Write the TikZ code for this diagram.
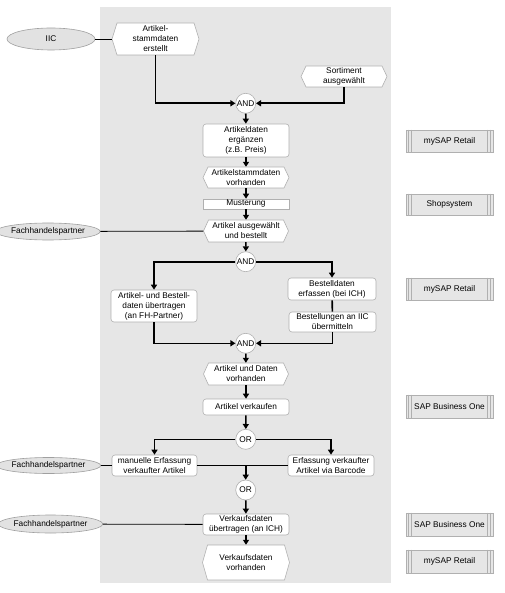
\documentclass[tikz,border=0pt]{standalone}
\usepackage{fontspec}
\setmainfont{Liberation Sans}
\usetikzlibrary{arrows.meta,shapes.geometric}
\definecolor{bggray}{HTML}{E6E6E6}
\definecolor{bordergray}{HTML}{B0B0B0}
\definecolor{actorfill}{HTML}{E2E2E2}
\definecolor{actorline}{HTML}{A0A0A0}
\tikzset{
  txt/.style={font=\fontsize{8.3}{10}\selectfont, align=center, inner sep=0pt},
  funcbox/.style={txt, draw=bordergray, fill=white, rounded corners=3pt, line width=0.6pt},
  plainbox/.style={txt, draw=bordergray, fill=white, line width=0.6pt},
  hexline/.style={draw=bordergray, fill=white, line width=0.6pt},
  gate/.style={txt, circle, draw=bordergray, fill=white, minimum size=20pt, line width=0.6pt},
  actor/.style={txt, ellipse, draw=actorline, fill=actorfill, line width=0.6pt},
  sysbox/.style={txt, draw=bordergray, fill=bggray, minimum width=87pt, line width=0.6pt},
  sysline/.style={draw=bordergray, line width=0.6pt},
  flow/.style={line width=1.6pt, -{Triangle[length=5pt,width=6pt]}},
  flowplain/.style={line width=1.6pt},
  link/.style={line width=0.8pt}
}
\newcommand\hexnode[6]{%
  \draw[hexline] (#2-#4/2,#3) -- (#2-#4/2+5,#3-#5/2) -- (#2+#4/2-5,#3-#5/2) -- (#2+#4/2,#3) -- (#2+#4/2-5,#3+#5/2) -- (#2-#4/2+5,#3+#5/2) -- cycle;
  \node[txt, minimum width=#4pt, minimum height=#5pt] (#1) at (#2,#3) {#6};}
\newcommand\sysnode[4]{%
  \node[sysbox, minimum height=#3pt] (#1) at (449.5,#2) {#4};
  \draw[sysline] ([xshift=3pt]#1.north west) -- ([xshift=3pt]#1.south west);
  \draw[sysline] ([xshift=6pt]#1.north west) -- ([xshift=6pt]#1.south west);
  \draw[sysline] ([xshift=-3pt]#1.north east) -- ([xshift=-3pt]#1.south east);
  \draw[sysline] ([xshift=-6pt]#1.north east) -- ([xshift=-6pt]#1.south east);}
\begin{document}
\begin{tikzpicture}[x=1pt,y=-1pt]
\useasboundingbox (0,0) rectangle (504,593);
\fill[white] (0,0) rectangle (504,593);
\fill[bggray] (100,7) rectangle (391,583);

% actors
\node[actor, minimum width=88pt, minimum height=22pt] (iic) at (51,39) {IIC};
\node[actor, minimum width=86pt, minimum height=17pt] (fh1) at (48,231.5) {Fachhandelspartner};
\node[actor, minimum width=85pt, minimum height=16pt] (fh2) at (48.5,465.5) {Fachhandelspartner};
\node[actor, minimum width=85pt, minimum height=18pt] (fh3) at (50.5,524) {Fachhandelspartner};

% events
\hexnode{e1}{155.5}{39}{87}{32}{Artikel-\\stammdaten\\erstellt}
\hexnode{e2}{344}{76.5}{86}{21}{Sortiment\\ausgewählt}
\hexnode{e3}{246}{177.5}{86}{21}{Artikelstammdaten\\vorhanden}
\hexnode{e4}{246}{231}{85}{22}{Artikel ausgewählt\\und bestellt}
\hexnode{e5}{246}{374}{85}{22}{Artikel und Daten\\vorhanden}
\hexnode{e6}{246}{562.5}{87}{35}{Verkaufsdaten\\vorhanden}

% functions
\node[funcbox, minimum width=86pt, minimum height=33pt] (f1) at (246,140.5) {Artikeldaten\\ergänzen\\(z.B. Preis)};
\node[plainbox, minimum width=86pt, minimum height=10pt] (f2) at (246,204) {Musterung};
\node[funcbox, minimum width=86pt, minimum height=32pt] (f3) at (154,306) {Artikel- und Bestell-\\daten übertragen\\(an FH-Partner)};
\node[funcbox, minimum width=88pt, minimum height=22pt] (f4) at (332,289) {Bestelldaten\\erfassen (bei ICH)};
\node[funcbox, minimum width=87pt, minimum height=20pt] (f5) at (332.5,322) {Bestellungen an IIC\\übermitteln};
\node[funcbox, minimum width=86pt, minimum height=16pt] (f6) at (246,407) {Artikel verkaufen};
\node[funcbox, minimum width=85pt, minimum height=21pt] (f7) at (154.5,465.5) {manuelle Erfassung\\verkaufter Artikel};
\node[funcbox, minimum width=86pt, minimum height=21pt] (f8) at (331,465.5) {Erfassung verkaufter\\Artikel via Barcode};
\node[funcbox, minimum width=86pt, minimum height=21pt] (f9) at (246,524.5) {Verkaufsdaten\\übertragen (an ICH)};

% gates
\node[gate] (g1) at (245.7,103.3) {AND};
\node[gate] (g2) at (245.7,261.7) {AND};
\node[gate] (g3) at (245.7,343.3) {AND};
\node[gate] (g4) at (245.7,439.3) {OR};
\node[gate] (g5) at (245.7,490) {OR};

% systems
\sysnode{s1}{141}{22}{mySAP Retail}
\sysnode{s2}{204.5}{21}{Shopsystem}
\sysnode{s3}{289}{22}{mySAP Retail}
\sysnode{s4}{406.5}{23}{SAP Business One}
\sysnode{s5}{524.5}{23}{SAP Business One}
\sysnode{s6}{561.5}{23}{mySAP Retail}

% actor links
\draw[link] (iic) -- (e1);
\draw[link] (fh1) -- (e4);
\draw[link] (fh2) -- (f7);
\draw[link] (fh3) -- (f9);

% flow
\draw[flow] (e1.south) |- (g1.west);
\draw[flow] (e2.south) |- (g1.east);
\draw[flow] (g1) -- (f1);
\draw[flow] (f1) -- (e3);
\draw[flow] (e3) -- (f2);
\draw[flow] (f2) -- (e4);
\draw[flow] (e4) -- (g2);
\draw[flow] (g2.west) -| (f3.north);
\draw[flow] (g2.east) -| (f4.north);
\draw[flowplain] (f4) -- (f5);
\draw[flow] (f3.south) |- (g3.west);
\draw[flow] (f5.south) |- (g3.east);
\draw[flow] (g3) -- (e5);
\draw[flow] (e5) -- (f6);
\draw[flow] (f6) -- (g4);
\draw[flow] (g4.west) -| (f7.north);
\draw[flow] (g4.east) -| (f8.north);
\coordinate (j) at (245.7,465.5);
\draw[flowplain] (f7.east) -- (j) -- (f8.west);
\draw[flow] (j) -- (g5);
\draw[flow] (g5) -- (f9);
\draw[flow] (f9) -- (e6);
\end{tikzpicture}
\end{document}
